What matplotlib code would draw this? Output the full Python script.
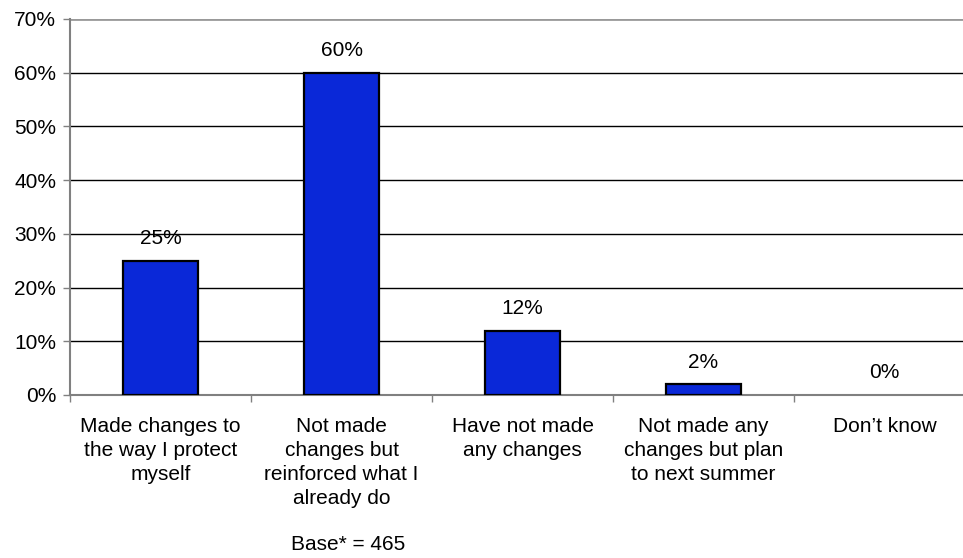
import matplotlib.pyplot as plt
from matplotlib.ticker import FixedLocator, PercentFormatter

categories = [
    "Made changes to\nthe way I protect\nmyself",
    "Not made\nchanges but\nreinforced what I\nalready do",
    "Have not made\nany changes",
    "Not made any\nchanges but plan\nto next summer",
    "Don\u2019t know",
]
values = [25, 60, 12, 2, 0]
base_note = "Base* = 465"

plt.rcParams['font.family'] = ['Liberation Sans', 'DejaVu Sans']

fig = plt.figure(figsize=(9.63, 5.58), dpi=100)
ax = fig.add_axes([70 / 963, 1 - 395 / 558, 905 / 963, 376 / 558])

x = range(len(values))
bars = ax.bar(x, values, width=0.41, color='#0A28D8', edgecolor='black',
              linewidth=1.6, zorder=3)

for b, v in zip(bars, values):
    if v == 0:
        b.set_linewidth(0)
    ax.annotate(f"{v}%", (b.get_x() + b.get_width() / 2, v),
                xytext=(0, 9), textcoords='offset points',
                ha='center', va='bottom', fontsize=15)

ax.set_xlim(-0.5, len(values) - 0.5)
ax.set_ylim(0, 70)
ax.set_yticks(range(0, 71, 10))
ax.yaxis.set_major_formatter(PercentFormatter(decimals=0))
ax.set_xticks(list(x))
ax.set_xticklabels(categories, fontsize=15, linespacing=1.33)
ax.xaxis.set_minor_locator(FixedLocator([i - 0.5 for i in range(len(values) + 1)]))
ax.tick_params(axis='x', which='major', length=0, pad=16)
ax.tick_params(axis='x', which='minor', length=5, color='#808080', width=1)
ax.tick_params(axis='y', length=5, color='#808080', width=1, labelsize=15, pad=5)

ax.yaxis.grid(True, color='black', linewidth=1, zorder=1)
ax.get_ygridlines()[-1].set_color('#999999')
ax.get_ygridlines()[-1].set_linewidth(2)
ax.set_axisbelow(True)

for s in ['top', 'right']:
    ax.spines[s].set_visible(False)
for s in ['left', 'bottom']:
    ax.spines[s].set_color('#808080')
    ax.spines[s].set_linewidth(1.5)

fig.text(348 / 963, 1 - 545 / 558, base_note, ha='center', va='center', fontsize=15)

fig.savefig('out.png', dpi=100)
